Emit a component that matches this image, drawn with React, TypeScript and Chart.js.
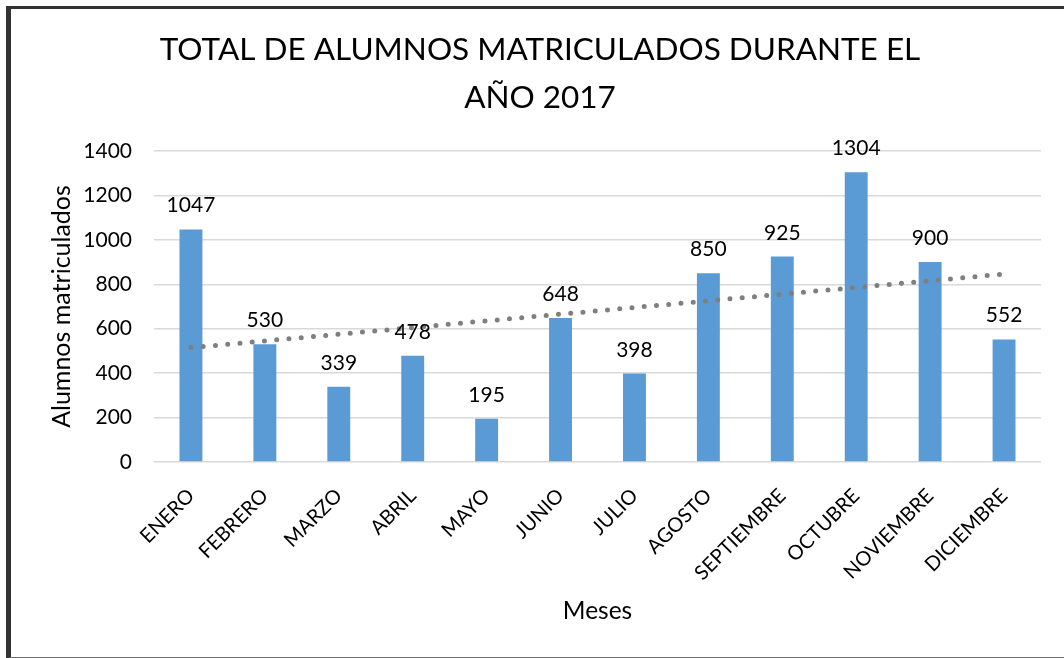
import React, { useEffect, useRef } from "react";
import { Chart, registerables } from "chart.js";

Chart.register(...registerables);

const TITLE_LINES = ["TOTAL DE ALUMNOS MATRICULADOS DURANTE EL", "AÑO 2017"];
const MONTHS = [
  "ENERO", "FEBRERO", "MARZO", "ABRIL", "MAYO", "JUNIO",
  "JULIO", "AGOSTO", "SEPTIEMBRE", "OCTUBRE", "NOVIEMBRE", "DICIEMBRE",
];
const ENROLLED = [1047, 530, 339, 478, 195, 648, 398, 850, 925, 1304, 900, 552];
// linear trend line, read at first and last month
const TREND = [515, null, null, null, null, null, null, null, null, null, null, 846];
const Y_MIN = 0;
const Y_MAX = 1400;
const Y_STEP = 200;
const Y_TITLE = "Alumnos matriculados";
const X_TITLE = "Meses";

const FONT = "Lato, 'Open Sans', sans-serif";

const valueLabels = {
  id: "valueLabels",
  afterDatasetsDraw(chart: any) {
    const ctx = chart.ctx;
    const meta = chart.getDatasetMeta(0);
    ctx.save();
    ctx.font = `21px ${FONT}`;
    ctx.fillStyle = "#000000";
    ctx.textAlign = "center";
    ctx.textBaseline = "alphabetic";
    meta.data.forEach((el: any, i: number) => {
      ctx.fillText(String(ENROLLED[i]), el.x, el.y - 17);
    });
    ctx.restore();
  },
};

export default function App() {
  const ref = useRef<HTMLCanvasElement>(null);

  useEffect(() => {
    if (!ref.current) return;
    const chart = new Chart(ref.current, {
      type: "bar",
      data: {
        labels: MONTHS,
        datasets: [
          {
            type: "bar",
            data: ENROLLED,
            backgroundColor: "#5b9bd5",
            categoryPercentage: 1,
            barPercentage: 0.31,
            order: 1,
          },
          {
            type: "line",
            data: TREND as any,
            spanGaps: true,
            borderColor: "#7f7f7f",
            borderWidth: 5,
            borderDash: [0, 12.3],
            borderCapStyle: "round",
            pointRadius: 0,
            fill: false,
            order: 0,
          } as any,
        ],
      },
      options: {
        animation: false,
        responsive: false,
        maintainAspectRatio: false,
        layout: { padding: { left: 27, right: 23, top: 0, bottom: 0 } },
        plugins: {
          legend: { display: false },
          tooltip: { enabled: false },
          title: {
            display: true,
            text: TITLE_LINES,
            color: "#000000",
            font: { family: FONT, size: 31.5, weight: "normal", lineHeight: 1.524 },
            padding: { top: 16, bottom: 29 },
          },
        },
        scales: {
          x: {
            grid: { display: false, drawTicks: false },
            border: { display: false },
            ticks: {
              color: "#000000",
              font: { family: FONT, size: 20 },
              minRotation: 45,
              maxRotation: 45,
              autoSkip: false,
              padding: 22,
            },
            title: {
              display: true,
              text: X_TITLE,
              color: "#000000",
              font: { family: FONT, size: 24.5 },
              padding: { top: 0, bottom: 29 },
            },
            afterFit(scale: any) {
              scale.height = 193;
            },
          },
          y: {
            min: Y_MIN,
            max: Y_MAX,
            grid: { color: "#d9d9d9", lineWidth: 1.5, drawTicks: false },
            border: { display: false },
            ticks: {
              stepSize: Y_STEP,
              color: "#000000",
              font: { family: FONT, size: 21 },
              padding: 22,
              callback: (v: any) => String(v),
            },
            title: {
              display: true,
              text: Y_TITLE,
              color: "#000000",
              font: { family: FONT, size: 25 },
              padding: { top: 8, bottom: 0 },
            },
            afterFit(scale: any) {
              scale.width = 115;
            },
          },
        },
      },
      plugins: [valueLabels],
    });
    return () => chart.destroy();
  }, []);

  return (
    <div
      style={{
        position: "fixed",
        left: 0,
        top: 0,
        width: 1064,
        height: 658,
        overflow: "hidden",
        background: "#ffffff",
      }}
    >
      <div
        style={{
          position: "absolute",
          left: 6,
          top: 6,
          width: 1100,
          height: 648,
          borderTop: "3px solid #333333",
          borderLeft: "5px solid #333333",
          borderBottom: "2px solid #6e6e6e",
          boxSizing: "content-box",
        }}
      />
      <canvas
        ref={ref}
        width={1052}
        height={645}
        style={{ position: "absolute", left: 12, top: 10, width: 1052, height: 645 }}
      />
    </div>
  );
}
